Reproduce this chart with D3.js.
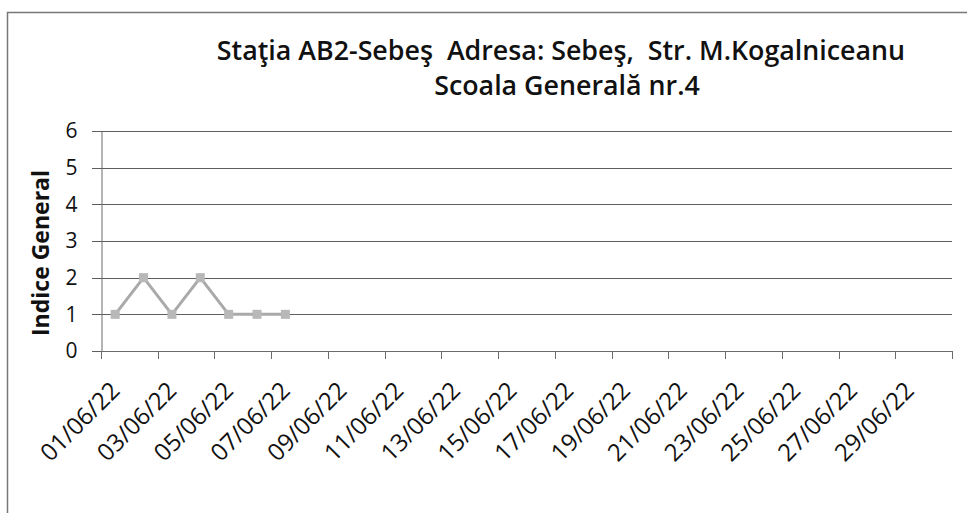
<!DOCTYPE html>
<html>
<head>
<meta charset="utf-8">
<script src="https://cdn.jsdelivr.net/npm/d3@7/dist/d3.min.js"></script>
<style>
  body { margin: 0; background: #fff; }
  svg { display: block; }
  text { font-family: "Open Sans", Lato, sans-serif; fill: #111; }
</style>
</head>
<body>
<svg id="chart"></svg>
<script>
// chart texts
let titleLines = ["Staţia AB2-Sebeş  Adresa: Sebeş,  Str. M.Kogalniceanu", "Scoala Generală nr.4"]
let yLabel = "Indice General"

// categories: every day of June 2022
let dates = ["01/06/22", "02/06/22", "03/06/22", "04/06/22", "05/06/22", "06/06/22",
             "07/06/22", "08/06/22", "09/06/22", "10/06/22", "11/06/22", "12/06/22",
             "13/06/22", "14/06/22", "15/06/22", "16/06/22", "17/06/22", "18/06/22",
             "19/06/22", "20/06/22", "21/06/22", "22/06/22", "23/06/22", "24/06/22",
             "25/06/22", "26/06/22", "27/06/22", "28/06/22", "29/06/22", "30/06/22"]

// measured values (only the first days have data)
let values = [1, 2, 1, 2, 1, 1, 1]
let yTicks = [0, 1, 2, 3, 4, 5, 6]

let width = 967
let height = 513
let svg = d3.select("#chart")
    .attr("width", width)
    .attr("height", height)

let X = d3.scaleBand()
          .domain(dates)
          .range([101, 952])
          .paddingInner(0)
          .paddingOuter(0)

let Y = d3.scaleLinear()
          .domain([0, 6])
          .range([351, 131])

// chart border (scanned: only left and top are visible)
svg.append("path")
   .attr("d", "M7.5,513 V12.5 H967")
   .attr("fill", "none")
   .attr("stroke", "#777")
   .attr("stroke-width", 1.5)

// Title
svg.append("g")
   .selectAll("text")
   .data(titleLines)
   .enter()
   .append("text")
   .attr("x", (d, i) => i === 0 ? 561 : 567)
   .attr("y", (d, i) => i === 0 ? 60 : 95)
   .attr("text-anchor", "middle")
   .style("white-space", "pre")
   .style("font-size", "26.8px")
   .style("font-weight", 600)
   .text(d => d)

// Grid lines
let grid = svg.append("g")
grid.selectAll("line")
    .data(yTicks)
    .enter()
    .append("line")
    .attr("x1", 92)
    .attr("x2", X.range()[1])
    .attr("y1", d => Math.round(Y(d)) + 0.5)
    .attr("y2", d => Math.round(Y(d)) + 0.5)
    .attr("stroke", "#5e5e5e")
    .attr("stroke-width", 1.2)

// Y axis
let yaxis = d3.axisLeft(Y)
              .tickValues(yTicks)
              .tickFormat(d3.format("d"))
              .tickSize(0)
              .tickPadding(24)
let gy = svg.append("g")
            .attr("transform", "translate(101.5,0)")
            .call(yaxis)
gy.select(".domain").attr("stroke", "#6b6b6b")
gy.selectAll("text")
  .style("font-size", "21px")
  .attr("fill", "#111")

svg.append("text")
   .attr("transform", "translate(49,253) rotate(-90)")
   .attr("text-anchor", "middle")
   .style("font-size", "23px")
   .style("font-weight", "bold")
   .text(yLabel)

// X axis: tick marks between categories, every second day
let tickIdx = d3.range(0, dates.length + 1, 2)
let step = X.step()
let gx = svg.append("g")
gx.append("line")
  .attr("x1", X.range()[0])
  .attr("x2", X.range()[1])
  .attr("y1", Math.round(Y(0)) + 0.5)
  .attr("y2", Math.round(Y(0)) + 0.5)
  .attr("stroke", "#6b6b6b")
gx.selectAll("line.tick")
  .data(tickIdx)
  .enter()
  .append("line")
  .attr("class", "tick")
  .attr("x1", d => Math.round(X.range()[0] + d * step) + 0.5)
  .attr("x2", d => Math.round(X.range()[0] + d * step) + 0.5)
  .attr("y1", Math.round(Y(0)))
  .attr("y2", Math.round(Y(0)) + 8)
  .attr("stroke", "#6b6b6b")

let labelDates = dates.filter((d, i) => i % 2 === 0)
gx.selectAll("text")
  .data(labelDates)
  .enter()
  .append("text")
  .attr("transform", d => "translate(" + (X(d) + X.bandwidth() / 2 + 6) + ",392) rotate(-45)")
  .attr("text-anchor", "end")
  .style("font-size", "24px")
  .text(d => d)

// Series
let line = d3.line()
             .x((d, i) => X(dates[i]) + X.bandwidth() / 2)
             .y(d => Y(d))
svg.append("path")
   .attr("fill", "none")
   .attr("stroke", "#a9a9a9")
   .attr("stroke-width", 3)
   .attr("stroke-linejoin", "round")
   .attr("d", line(values))

svg.append("g")
   .selectAll("rect")
   .data(values)
   .enter()
   .append("rect")
   .attr("x", (d, i) => X(dates[i]) + X.bandwidth() / 2 - 4.5)
   .attr("y", d => Y(d) - 4.5)
   .attr("width", 9)
   .attr("height", 9)
   .attr("fill", "#b8b8b8")
</script>
</body>
</html>
